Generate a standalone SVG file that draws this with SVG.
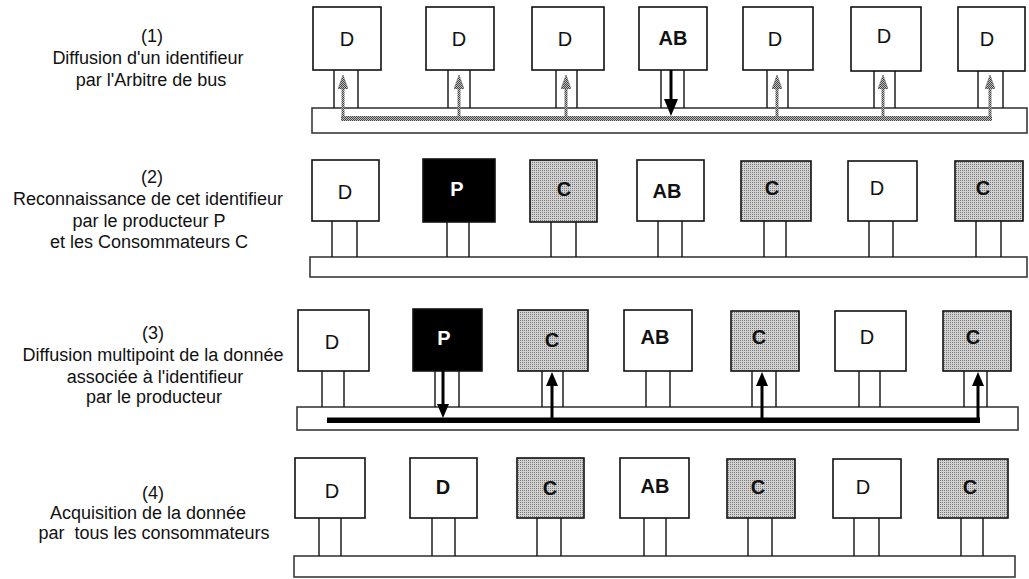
<svg xmlns="http://www.w3.org/2000/svg" width="1029" height="579" viewBox="0 0 1029 579">
<style>
.box{stroke:#111;stroke-width:1.6}
.w{fill:#fff}.k{fill:#000}.g{fill:url(#dith)}
.leg{stroke:#111;stroke-width:1.4;fill:none}
.bus{fill:#fff;stroke:#3a3a3a;stroke-width:1.6}
.lbl{font-family:"Liberation Sans",Arial,sans-serif;font-size:18px;fill:#111;text-anchor:middle}
.nt{font-family:"Liberation Sans",Arial,sans-serif;font-size:20px;text-anchor:middle;fill:#111}
.b{font-weight:bold}
.wt{fill:#fff}
.sigg{fill:url(#dith2)}
.sgk{stroke:#000;stroke-width:3;fill:none}
.sgg{stroke:url(#dith2);stroke-width:3;fill:none}
</style>
<defs>
<pattern id="dith" patternUnits="userSpaceOnUse" width="2" height="2">
<rect width="2" height="2" fill="#d2d2d2"/><rect width="1" height="1" fill="#7a7a7a"/>
</pattern>
<pattern id="dith2" patternUnits="userSpaceOnUse" width="2" height="2">
<rect width="2" height="2" fill="#c0c0c0"/><rect width="1" height="1" fill="#444"/><rect x="1" y="1" width="1" height="1" fill="#444"/>
</pattern>
<marker id="hb1" markerUnits="userSpaceOnUse" markerWidth="17" markerHeight="14" viewBox="0 0 17 14" refX="0" refY="7" orient="auto"><polygon points="0,0 17,7 0,14" fill="#000"/></marker>
<marker id="hb" markerUnits="userSpaceOnUse" markerWidth="14" markerHeight="12" viewBox="0 0 14 12" refX="0" refY="6" orient="auto"><polygon points="0,0 14,6 0,12" fill="#000"/></marker>
<marker id="hg" markerUnits="userSpaceOnUse" markerWidth="14" markerHeight="10" viewBox="0 0 14 10" refX="0" refY="5" orient="auto"><polygon points="0,0 14,5 0,10" fill="url(#dith2)" stroke="#666" stroke-width="0.6"/></marker>
</defs>
<rect width="1029" height="579" fill="#fff"/>

<g id="labels">
<text class="lbl" x="152" y="42">(1)</text>
<text class="lbl" x="148" y="64">Diffusion d'un identifieur</text>
<text class="lbl" x="151" y="86">par l'Arbitre de bus</text>
<text class="lbl" x="152" y="183">(2)</text>
<text class="lbl" x="148" y="205">Reconnaissance de cet identifieur</text>
<text class="lbl" x="149" y="227">par le producteur P</text>
<text class="lbl" x="149" y="248">et les Consommateurs C</text>
<text class="lbl" x="153" y="339">(3)</text>
<text class="lbl" x="153" y="361">Diffusion multipoint de la donnée</text>
<text class="lbl" x="155" y="383">associée à l'identifieur</text>
<text class="lbl" x="154" y="403">par le producteur</text>
<text class="lbl" x="153" y="499">(4)</text>
<text class="lbl" x="148" y="519">Acquisition de la donnée</text>
<text class="lbl" x="154" y="539" xml:space="preserve">par  tous les consommateurs</text>
</g>

<!-- Row 1 -->
<rect id="bus1" class="bus" x="312" y="108" width="715" height="25"/>
<g id="r1-n1"><rect class="box w" x="313" y="7" width="68" height="63"/><path class="leg" d="M334 70V108M358 70V108"/><text class="nt" x="347" y="46">D</text></g>
<g id="r1-n2"><rect class="box w" x="426" y="7" width="68" height="63"/><path class="leg" d="M448 70V108M470 70V108"/><text class="nt" x="459" y="46">D</text></g>
<g id="r1-n3"><rect class="box w" x="532" y="7" width="72" height="63"/><path class="leg" d="M556 70V108M577 70V108"/><text class="nt" x="565" y="46">D</text></g>
<g id="r1-n4"><rect class="box w" x="639" y="7" width="68" height="63"/><path class="leg" d="M661 70V108M684 70V108"/><text class="nt b" x="673" y="45">AB</text></g>
<g id="r1-n5"><rect class="box w" x="743" y="7" width="70" height="63"/><path class="leg" d="M767 70V108M788 70V108"/><text class="nt" x="775" y="46">D</text></g>
<g id="r1-n6"><rect class="box w" x="851" y="7" width="70" height="64"/><path class="leg" d="M874 71V108M895 71V108"/><text class="nt" x="884" y="43">D</text></g>
<g id="r1-n7"><rect class="box w" x="958" y="7" width="67" height="64"/><path class="leg" d="M978 71V108M1003 71V108"/><text class="nt" x="987" y="46">D</text></g>

<!-- Row 2 -->
<rect id="bus2" class="bus" x="310" y="257" width="717" height="20"/>
<g id="r2-n1"><rect class="box w" x="312" y="160" width="67" height="61"/><path class="leg" d="M332 221V257M357 221V257"/><text class="nt" x="345" y="199">D</text></g>
<g id="r2-n2"><rect class="box k" x="423" y="159" width="72" height="63"/><path class="leg" d="M447 222V257M469 222V257"/><text class="nt b wt" x="457" y="196">P</text></g>
<g id="r2-n3"><rect class="box g" x="530" y="160" width="67" height="62"/><path class="leg" d="M551 222V257M576 222V257"/><text class="nt b" x="564" y="196">C</text></g>
<g id="r2-n4"><rect class="box w" x="637" y="160" width="67" height="61"/><path class="leg" d="M658 221V257M682 221V257"/><text class="nt b" x="667" y="198">AB</text></g>
<g id="r2-n5"><rect class="box g" x="741" y="161" width="70" height="60"/><path class="leg" d="M764 221V257M786 221V257"/><text class="nt b" x="772" y="195">C</text></g>
<g id="r2-n6"><rect class="box w" x="848" y="161" width="69" height="60"/><path class="leg" d="M869 221V257M893 221V257"/><text class="nt" x="877" y="195">D</text></g>
<g id="r2-n7"><rect class="box g" x="955" y="161" width="68" height="60"/><path class="leg" d="M976 221V257M1001 221V257"/><text class="nt b" x="983" y="195">C</text></g>

<!-- Row 3 -->
<rect id="bus3" class="bus" x="297" y="407" width="721" height="23"/>
<g id="r3-n1"><rect class="box w" x="298" y="310" width="71" height="61"/><path class="leg" d="M322 371V407M344 371V407"/><text class="nt" x="332" y="349">D</text></g>
<g id="r3-n2"><rect class="box k" x="413" y="309" width="69" height="62"/><path class="leg" d="M435 371V407M459 371V407"/><text class="nt b wt" x="444" y="345">P</text></g>
<g id="r3-n3"><rect class="box g" x="518" y="310" width="70" height="61"/><path class="leg" d="M542 371V407M563 371V407"/><text class="nt b" x="552" y="347">C</text></g>
<g id="r3-n4"><rect class="box w" x="624" y="310" width="68" height="61"/><path class="leg" d="M646 371V407M670 371V407"/><text class="nt b" x="655" y="344">AB</text></g>
<g id="r3-n5"><rect class="box g" x="731" y="311" width="68" height="60"/><path class="leg" d="M752 371V407M776 371V407"/><text class="nt b" x="759" y="344">C</text></g>
<g id="r3-n6"><rect class="box w" x="835" y="311" width="71" height="60"/><path class="leg" d="M859 371V407M880 371V407"/><text class="nt" x="867" y="344">D</text></g>
<g id="r3-n7"><rect class="box g" x="943" y="311" width="68" height="60"/><path class="leg" d="M964 371V407M987 371V407"/><text class="nt b" x="973" y="344">C</text></g>

<!-- Row 4 -->
<rect id="bus4" class="bus" x="294" y="556" width="721" height="21"/>
<g id="r4-n1"><rect class="box w" x="295" y="458" width="70" height="60"/><path class="leg" d="M319 518V556M341 518V556"/><text class="nt" x="332" y="498">D</text></g>
<g id="r4-n2"><rect class="box w" x="410" y="458" width="67" height="60"/><path class="leg" d="M432 518V556M455 518V556"/><text class="nt b" x="443" y="494">D</text></g>
<g id="r4-n3"><rect class="box g" x="517" y="458" width="67" height="60"/><path class="leg" d="M537 518V556M561 518V556"/><text class="nt b" x="550" y="495">C</text></g>
<g id="r4-n4"><rect class="box w" x="620" y="458" width="69" height="60"/><path class="leg" d="M644 518V556M666 518V556"/><text class="nt b" x="655" y="493">AB</text></g>
<g id="r4-n5"><rect class="box g" x="727" y="459" width="68" height="59"/><path class="leg" d="M748 518V556M772 518V556"/><text class="nt b" x="758" y="494">C</text></g>
<g id="r4-n6"><rect class="box w" x="833" y="459" width="68" height="59"/><path class="leg" d="M854 518V556M879 518V556"/><text class="nt" x="863" y="494">D</text></g>
<g id="r4-n7"><rect class="box g" x="938" y="459" width="70" height="59"/><path class="leg" d="M961 518V556M983 518V556"/><text class="nt b" x="970" y="494">C</text></g>

<g id="connectors">
<!-- row 1: identifier broadcast -->
<rect class="sigg" x="341" y="116" width="651" height="5"/>
<path class="sgg" d="M343 118V89" marker-end="url(#hg)"/>
<path class="sgg" d="M459 118V89" marker-end="url(#hg)"/>
<path class="sgg" d="M566 118V89" marker-end="url(#hg)"/>
<path class="sgg" d="M777 118V89" marker-end="url(#hg)"/>
<path class="sgg" d="M883 118V89" marker-end="url(#hg)"/>
<path class="sgg" d="M990 118V89" marker-end="url(#hg)"/>
<path class="sgk" d="M671 70V99" marker-end="url(#hb1)"/>
<!-- row 3: data broadcast -->
<rect x="327" y="417.5" width="653" height="5.5" fill="#000"/>
<path class="sgk" d="M443 371V404" marker-end="url(#hb)"/>
<path class="sgk" d="M552 420V386" marker-end="url(#hb)"/>
<path class="sgk" d="M762 420V386" marker-end="url(#hb)"/>
<path class="sgk" d="M978 420V386" marker-end="url(#hb)"/>
</g>
</svg>
